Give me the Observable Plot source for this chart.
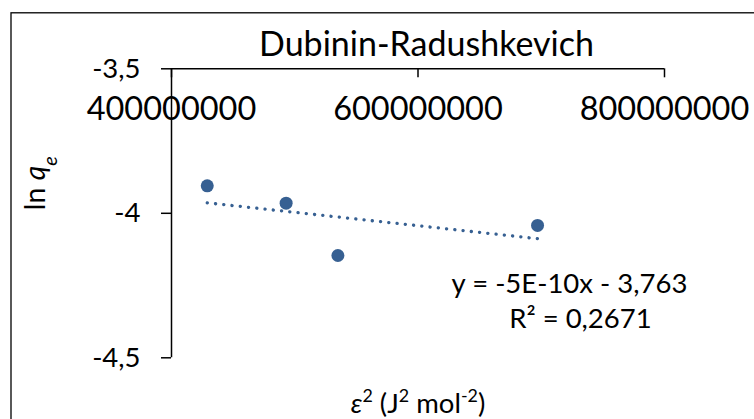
<!DOCTYPE html>
<html><head><meta charset="utf-8">
<script src="https://cdn.jsdelivr.net/npm/d3@7"></script>
<script src="https://cdn.jsdelivr.net/npm/@observablehq/plot@0.6"></script>
<style>
html,body{margin:0;background:#fff;overflow:hidden;}
#chart svg{display:block;}
</style></head><body><div id="chart"></div>
<script>
// ---- data ----
const epsilon2 = [429e6, 493e6, 535e6, 697e6];      // ε² (J² mol⁻²)
const lnQe = [-3.905, -3.965, -4.146, -4.042];       // ln qe
const xTicks = [4e8, 6e8, 8e8];
const yTicks = [-3.5, -4, -4.5];
const title = "Dubinin-Radushkevich";
const xLabelParts = [["ε", "i"], ["2", "sup"], [" (J", ""], ["2", "sup"], [" mol", ""], ["-2", "sup"], [")", ""]];
const xLabel = xLabelParts.map(p => p[0]).join("");
const yLabel = "ln qe";
const equationLines = ["y = -5E-10x - 3,763", "R² = 0,2671"];
const equationX = [722.9e6, 731.8e6];
const equationY = [-4.2775, -4.3986];

const blue = "#376092";
const fmtX = d => String(d);
const fmtY = d => String(d).replace(".", ",");
const data = epsilon2.map((x, i) => ({x, y: lnQe[i]}));
const eq = equationLines.map((t, i) => ({t, x: equationX[i], y: equationY[i]}));

const svg = Plot.plot({
  width: 754, height: 419,
  marginLeft: 171, marginRight: 90, marginTop: 68.3, marginBottom: 61.7,
  x: {domain: [4e8, 8e8], axis: null},
  y: {domain: [-4.5, -3.5], axis: null},
  style: {fontFamily: "Lato, sans-serif", fontSize: "27.5px", color: "#000", background: "#fff"},
  marks: [
    Plot.frame({insetLeft: -160.5, insetTop: -56, insetRight: -300, insetBottom: -300, stroke: "#000", strokeWidth: 1.3}),
    Plot.ruleX([4e8], {y1: -4.5, y2: -3.5, stroke: "#000", strokeWidth: 1.5}),
    Plot.ruleY([-3.5], {x1: 4e8, x2: 8e8, stroke: "#000", strokeWidth: 1.5}),
    Plot.ruleX(xTicks, {x: d => d, y1: -3.5, y2: -3.5, insetBottom: -9, stroke: "#000", strokeWidth: 1.5}),
    Plot.ruleY(yTicks, {y: d => d, x1: 4e8, x2: 4e8, insetLeft: -10, stroke: "#000", strokeWidth: 1.5}),
    Plot.text(xTicks, {x: d => d, frameAnchor: "top", dy: 40.5, lineAnchor: "middle", text: fmtX, fill: "#000", fontSize: 32.5}),
    Plot.text(yTicks, {y: d => d, frameAnchor: "left", dx: -31, textAnchor: "end", lineAnchor: "middle", text: fmtY, fill: "#000", fontSize: 27.5}),
    Plot.linearRegressionY(data, {x: "x", y: "y", ci: 0, stroke: blue, strokeWidth: 3.3, strokeDasharray: "0.1 8.2", strokeLinecap: "round"}),
    Plot.dot(data, {x: "x", y: "y", r: 6.5, fill: blue, stroke: "none"}),
    Plot.text([title], {frameAnchor: "top", dx: 8.5, dy: -13.3, lineAnchor: "bottom", fill: "#000", fontSize: 34}),
    Plot.text([xLabel], {frameAnchor: "bottom", dy: 54.7, lineAnchor: "bottom", fill: "#000", fontSize: 27.5}),
    Plot.text([yLabel], {frameAnchor: "left", dx: -136, dy: -3, rotate: -90, lineAnchor: "middle", fill: "#000", fontSize: 28.5}),
    Plot.text(eq, {x: "x", y: "y", text: "t", lineAnchor: "bottom", fill: "#000", fontSize: 27.5})
  ]
});

d3.select(svg).selectAll("text").each(function() {
  const t = d3.select(this);
  const s = this.textContent;
  if (s === yLabel) {
    t.text(null);
    t.append("tspan").text("ln ");
    t.append("tspan").attr("font-style", "italic").text("q");
    t.append("tspan").attr("font-style", "italic").attr("font-size", "0.7em").attr("baseline-shift", "sub").text("e");
  } else if (s === xLabel) {
    t.text(null);
    for (const [txt, kind] of xLabelParts) {
      const sp = t.append("tspan").text(txt);
      if (kind === "i") sp.attr("font-style", "italic");
      if (kind === "sup") sp.attr("font-size", "0.65em").attr("baseline-shift", "super");
    }
  }
});
document.getElementById("chart").appendChild(svg);
</script>
</body></html>
